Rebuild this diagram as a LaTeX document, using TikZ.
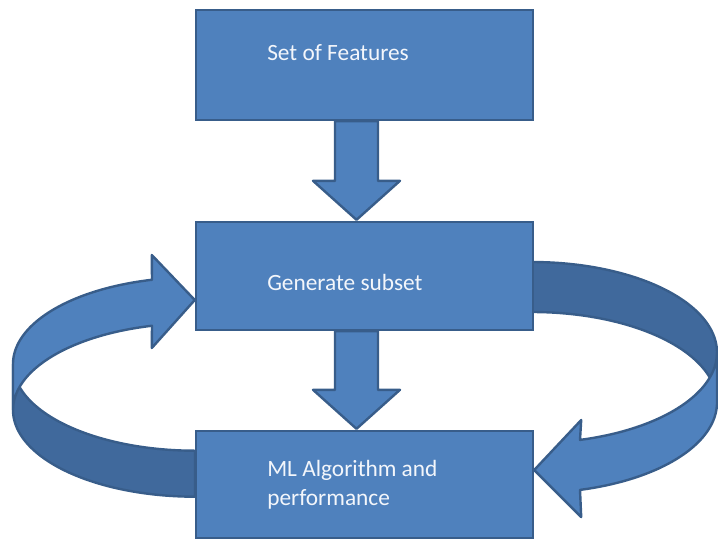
\documentclass[tikz,border=0pt]{standalone}
\usepackage{fontspec}
\setmainfont{Carlito}
\usetikzlibrary{calc}
\pgfdeclarelayer{background}
\pgfsetlayers{background,main}
\definecolor{boxfill}{HTML}{4F81BD}
\definecolor{boxline}{HTML}{385D8A}
\definecolor{shadefill}{HTML}{40699C}
\definecolor{labeltext}{HTML}{F3F6FB}
\begin{document}
\begin{tikzpicture}[x=0.75pt,y=-0.75pt,
  box/.style={draw=boxline, fill=boxfill, line width=1.8pt, minimum width=252.75pt, inner sep=0pt},
  frontface/.style={draw=boxline, fill=boxfill, line width=1.8pt, line join=round},
  backface/.style={draw=boxline, fill=shadefill, line width=1.8pt, line join=round},
  lbl/.style={text=labeltext, inner sep=0pt, anchor=base west, align=left,
    font=\fontsize{17.5}{21.75}\selectfont}]
\useasboundingbox (0,0) rectangle (718,540);

% the three process boxes
\node[box, minimum height=82.5pt] (feat) at (364.5,65) {};
\node[box, minimum height=81pt] (gen) at (364.5,276) {};
\node[box, minimum height=80.25pt] (ml) at (364.5,484.5) {};

% their labels (base anchor sits on the last line)
\node[lbl] (featlbl) at (267,60) {Set of Features};
\node[lbl] (genlbl) at (267,290) {Generate subset};
\node[lbl] (mllbl) at (267,505) {ML Algorithm and\\performance};

% arrow tips on the box sides
\path (gen.west) ++(0,24) coordinate (ltip);
\path (ml.east) ++(0,-14.5) coordinate (rtip);

\begin{pgfonlayer}{background}
  % straight block arrows between the boxes
  \foreach \a/\b in {feat/gen, gen/ml}{
    \filldraw[frontface]
      ($(\a.south)+(-29.5,0)$) -- ($(\b.north)+(-29.5,-40)$) -- ($(\b.north)+(-51.5,-40)$)
      -- ($(\b.north)+(-8,-1)$) -- ($(\b.north)+(35.5,-40)$) -- ($(\b.north)+(13.5,-40)$)
      -- ($(\a.south)+(13.5,0)$) -- cycle;
  }

  % left ribbon: back face (lower) then front face (upper) with head
  \filldraw[backface] (13,364)
    -- plot[domain=180:90, samples=60] ({195+182*cos(\x)},{410+86.7*sin(\x)})
    -- plot[domain=90:180, samples=60] ({195+182*cos(\x)},{364+86.7*sin(\x)}) -- cycle;
  \filldraw[frontface] (13,410)
    -- plot[domain=180:256.33, samples=60] ({195+182*cos(\x)},{364+86.7*sin(\x)})
    -- ($(ltip)+(-43,-45)$) -- (ltip) -- ($(ltip)+(-43,48)$)
    -- plot[domain=256.33:180, samples=60] ({195+182*cos(\x)},{410+86.7*sin(\x)}) -- cycle;

  % right ribbon: back face (upper) then front face (lower) with head
  \filldraw[backface] (532,312)
    -- plot[domain=-90:0, samples=60] ({532+185*cos(\x)},{352.5+90.5*sin(\x)})
    -- plot[domain=0:-90, samples=60] ({532+185*cos(\x)},{402.5+90.5*sin(\x)}) -- cycle;
  \filldraw[frontface] (717,352.5)
    -- plot[domain=0:74.96, samples=60] ({532+185*cos(\x)},{402.5+90.5*sin(\x)})
    -- ($(rtip)+(47,47)$) -- (rtip) -- ($(rtip)+(47,-50)$)
    -- plot[domain=74.96:0, samples=60] ({532+185*cos(\x)},{352.5+90.5*sin(\x)}) -- cycle;
\end{pgfonlayer}
\end{tikzpicture}
\end{document}
